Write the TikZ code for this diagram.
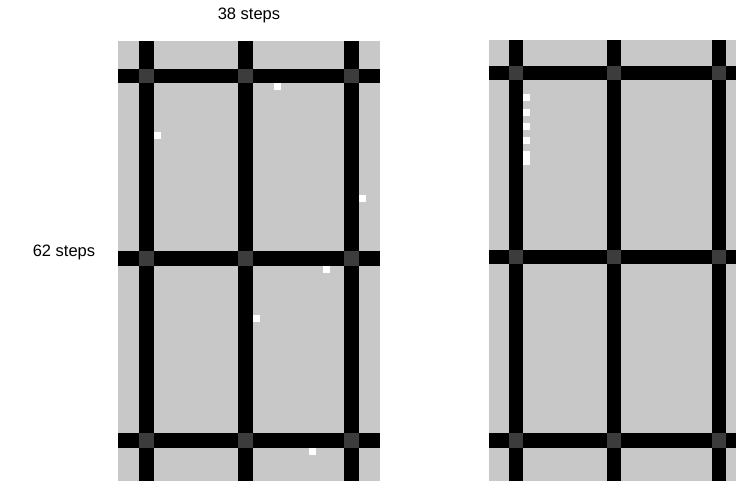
\documentclass[tikz,border=0pt]{standalone}
\usepackage{fontspec}
\setmainfont{Liberation Sans}
\definecolor{cellgray}{RGB}{200,200,200}
\definecolor{crossgray}{RGB}{60,60,60}
\tikzset{
  stepslabel/.style={font=\fontsize{16.5}{19}\selectfont, inner sep=0pt, anchor=base},
  freecell/.style={fill=white, draw=none}
}
\begin{document}
\begin{tikzpicture}[x=1pt, y=-1pt]
\useasboundingbox (0,0) rectangle (736,481);
\clip (0,0) rectangle (736,481);

% labels
\node[stepslabel] (widthlabel) at (249,20) {38 steps};
\node[stepslabel] (heightlabel) at (64,256) {62 steps};

% left panel
\fill[cellgray] (118,41) rectangle (380,481);
\foreach \y in {69,251.3,433.3}
  \fill[black] (118,\y) rectangle (380,\y+14.4);
\foreach \x in {139.3,238.3,344.3}
  \fill[black] (\x,41) rectangle (\x+14.2,481);
\foreach \x in {139.3,238.3,344.3}
  \foreach \y in {69,251.3,433.3}
    \fill[crossgray] (\x,\y) rectangle (\x+14.2,\y+14.4);
% free cells
\foreach \x/\y in {273.5/83.3, 153.7/132, 358.7/195.3, 323.3/266, 252.7/314.7, 309/448.3}
  \fill[freecell] (\x,\y) rectangle (\x+7,\y+7);

% right panel
\fill[cellgray] (489,40) rectangle (751,481);
\foreach \y in {66,249.5,433.3}
  \fill[black] (489,\y) rectangle (751,\y+14.4);
\foreach \x in {509,607,712}
  \fill[black] (\x,40) rectangle (\x+14,481);
\foreach \x in {509,607,712}
  \foreach \y in {66,249.5,433.3}
    \fill[crossgray] (\x,\y) rectangle (\x+14,\y+14.4);
% free cells
\foreach \y in {94,108.7,122.7,136.7}
  \fill[freecell] (523,\y) rectangle (530,\y+7);
\fill[freecell] (523,150.7) rectangle (530,165);
\end{tikzpicture}
\end{document}
